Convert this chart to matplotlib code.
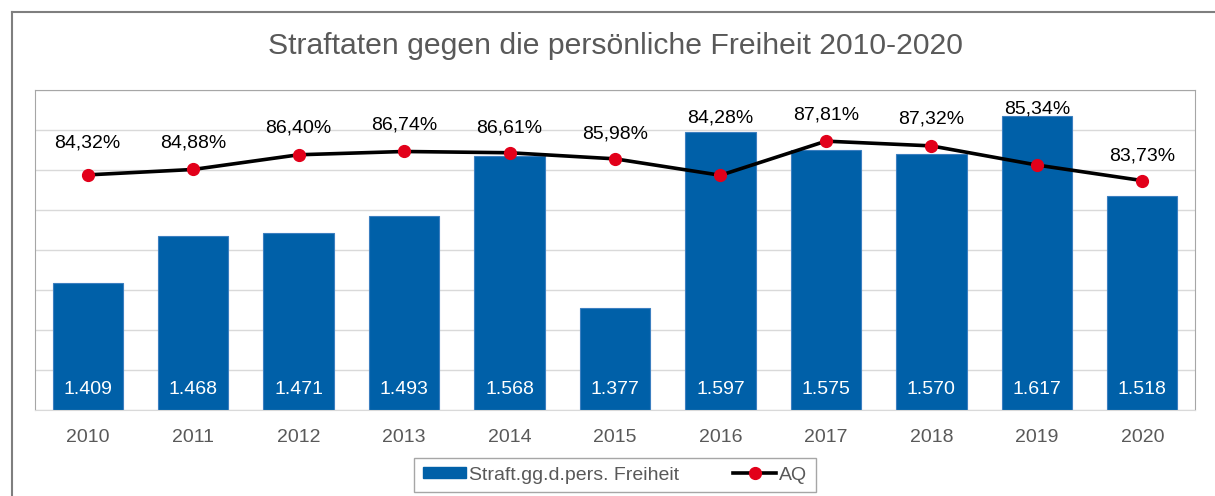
import matplotlib.pyplot as plt
from matplotlib.lines import Line2D
from matplotlib.patches import Patch
import numpy as np

plt.rcParams['font.family'] = ['Liberation Sans', 'DejaVu Sans']

years = ["2010", "2011", "2012", "2013", "2014", "2015",
         "2016", "2017", "2018", "2019", "2020"]
straftaten = [1409, 1468, 1471, 1493, 1568, 1377, 1597, 1575, 1570, 1617, 1518]
aq = [84.32, 84.88, 86.40, 86.74, 86.61, 85.98, 84.28, 87.81, 87.32, 85.34, 83.73]

# how far each AQ label sits above its point (points)
label_lift = [23, 19, 19, 19, 18, 18, 41, 19, 19, 40, 18]

blue = "#0060A8"
red = "#E2001A"
grey_text = "#595959"


def de_int(v):
    return f"{v:,}".replace(",", ".")


def de_pct(v):
    return f"{v:.2f}%".replace(".", ",")


fig = plt.figure(figsize=(12.15, 4.96), dpi=100)
ax = fig.add_axes([35 / 1215, 86 / 496, 1160 / 1215, 320 / 496])

x = np.arange(len(years))
ax.bar(x, straftaten, width=0.667, color=blue, edgecolor="#3C7FC0",
       linewidth=0.8, zorder=2)
ax.set_ylim(1250, 1650)
ax.set_xlim(-0.5, len(years) - 0.5)
ax.set_yticks(np.arange(1250, 1651, 50))
ax.yaxis.grid(True, color="#D9D9D9", linewidth=1, zorder=0)
ax.set_axisbelow(True)
ax.set_xticks(x)
ax.set_xticklabels(years, fontsize=14, color=grey_text)
ax.tick_params(axis="x", length=0, pad=14)
for s in ["top", "right", "left"]:
    ax.spines[s].set_color("#A6A6A6")
ax.spines["bottom"].set_color("#D9D9D9")

for xi, v in zip(x, straftaten):
    ax.annotate(de_int(v), xy=(xi, 1250), xytext=(0, 14.5),
                textcoords="offset points", ha="center", va="center",
                color="white", fontsize=14, zorder=3)

ax2 = ax.twinx()
ax2.set_ylim(60, 93.1)
ax2.plot(x, aq, color="black", linewidth=2.6, marker="o", markersize=8.5,
         markerfacecolor=red, markeredgecolor=red, zorder=4)
ax2.tick_params(axis="y", right=False, labelright=False)
ax.tick_params(axis="y", left=False, right=False, labelleft=False)
for s in ax2.spines.values():
    s.set_visible(False)

for xi, v, lift in zip(x, aq, label_lift):
    ax2.annotate(de_pct(v), xy=(xi, v), xytext=(0, lift),
                 textcoords="offset points", ha="center", va="center",
                 color="black", fontsize=14)

fig.text(615 / 1215, 1 - 46 / 496,
         "Straftaten gegen die persönliche Freiheit 2010-2020",
         ha="center", va="center", fontsize=21.7, color=grey_text)

handles = [Patch(facecolor=blue, edgecolor=blue),
           Line2D([0], [0], color="black", linewidth=2.6, marker="o",
                  markersize=8.5, markerfacecolor=red, markeredgecolor=red)]
leg = fig.legend(handles, ["Straft.gg.d.pers. Freiheit", "AQ"],
                 loc="center", bbox_to_anchor=(615 / 1215, 1 - 475 / 496),
                 ncol=2, fontsize=14, frameon=True, fancybox=False,
                 edgecolor="#A6A6A6", framealpha=1, handlelength=2.2,
                 handleheight=0.45, columnspacing=2.8, handletextpad=0.15,
                 borderpad=0.45, borderaxespad=0)
leg.get_frame().set_linewidth(1)
for t in leg.get_texts():
    t.set_color(grey_text)

# outer chart frame
fig.add_artist(Line2D([12 / 1215, 12 / 1215], [0, 1 - 12 / 496],
                      color="#7F7F7F", linewidth=1.5))
fig.add_artist(Line2D([12 / 1215, 1], [1 - 12 / 496, 1 - 12 / 496],
                      color="#7F7F7F", linewidth=1.5))

fig.savefig("out.png", dpi=100)
